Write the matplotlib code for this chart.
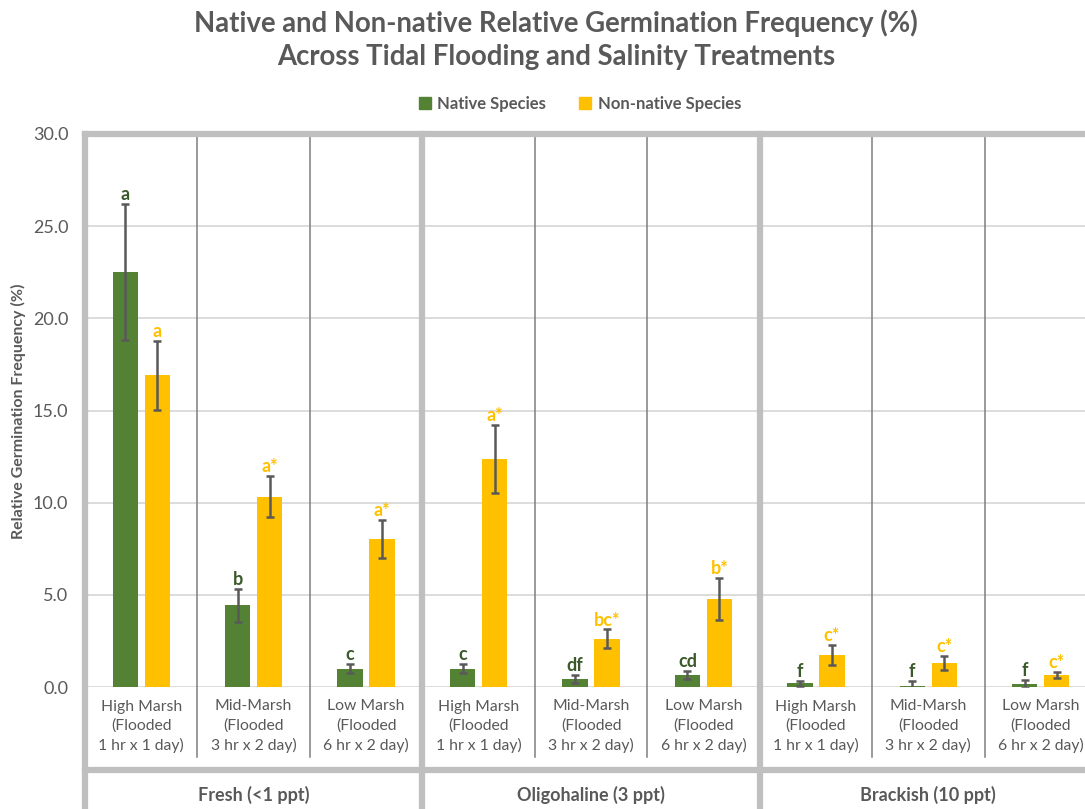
import matplotlib
matplotlib.use('agg')
import matplotlib.pyplot as plt
from matplotlib.patches import Patch
import numpy as np

plt.rcParams['font.family'] = ['Lato', 'DejaVu Sans']

# treatments: three flooding regimes repeated within each salinity level
categories = ['High Marsh\n(Flooded\n1 hr x 1 day)',
              'Mid-Marsh\n(Flooded\n3 hr x 2 day)',
              'Low Marsh\n(Flooded\n6 hr x 2 day)'] * 3
salinity = ['Fresh (<1 ppt)', 'Oligohaline (3 ppt)', 'Brackish (10 ppt)']

native = [22.5, 4.43, 1.0, 1.0, 0.45, 0.65, 0.2, 0.05, 0.17]
native_err = [3.7, 0.9, 0.25, 0.25, 0.22, 0.22, 0.13, 0.3, 0.2]
native_letters = ['a', 'b', 'c', 'c', 'df', 'cd', 'f', 'f', 'f']

nonnative = [16.9, 10.33, 8.03, 12.35, 2.62, 4.78, 1.75, 1.28, 0.65]
nonnative_err = [1.85, 1.1, 1.05, 1.85, 0.5, 1.15, 0.53, 0.38, 0.16]
nonnative_letters = ['a', 'a*', 'a*', 'a*', 'bc*', 'b*', 'c*', 'c*', 'c*']

GREEN = '#548235'
GOLD = '#FFC000'
TXT = '#595959'
BORDER = '#BFBFBF'

W, H = 1085, 809
fig = plt.figure(figsize=(W / 100, H / 100), dpi=100)
ax = fig.add_axes([85 / W, 1 - 687 / H, (1097 - 85) / W, (687 - 134) / H])

x = np.arange(len(categories))
bw = 0.225
off = 0.142
ekw = dict(ecolor=TXT, elinewidth=1.8, capsize=2.7, capthick=1.8)
ax.bar(x - off, native, bw, color=GREEN, yerr=native_err, error_kw=ekw, zorder=2)
ax.bar(x + off, nonnative, bw, color=GOLD, yerr=nonnative_err, error_kw=ekw, zorder=2)

# significance letters above the error bars
for i in range(len(x)):
    ax.text(x[i] - off, native[i] + native_err[i] + 0.05, native_letters[i],
            ha='center', va='bottom', fontsize=13, fontweight='bold', color='#3B5A2A')
    ax.text(x[i] + off, nonnative[i] + nonnative_err[i] + 0.05, nonnative_letters[i],
            ha='center', va='bottom', fontsize=13, fontweight='bold', color=GOLD)

ax.set_xlim(-0.5, 8.5)
ax.set_ylim(0, 30)
ax.set_yticks(np.arange(0, 31, 5))
ax.set_yticklabels(['{:.1f}'.format(v) for v in np.arange(0, 31, 5)])
ax.set_xticks(x)
ax.set_xticklabels(categories, linespacing=1.45)
ax.tick_params(axis='both', length=0, labelcolor=TXT)
ax.tick_params(axis='x', pad=9, labelsize=11.3)
ax.tick_params(axis='y', pad=12, labelsize=13)
ax.set_axisbelow(True)
ax.yaxis.grid(True, color='#D9D9D9', lw=1.3)
for s in ax.spines.values():
    s.set_visible(False)

# frame and separators drawn in data-x / axes-y coordinates
trans = ax.get_xaxis_transform()
ybot = (687 - 815) / 553
yband = (687 - 770) / 553
ythin = (687 - 757) / 553
ax.plot([-0.5, 8.5], [1, 1], transform=trans, color=BORDER, lw=4.5, clip_on=False, zorder=3)
ax.plot([-0.5, 8.5], [yband, yband], transform=trans, color=BORDER, lw=4.5, clip_on=False)
for xv in [-0.5, 2.5, 5.5, 8.5]:
    ax.plot([xv, xv], [1, ybot], transform=trans, color=BORDER, lw=4.5, clip_on=False, zorder=3)
for xv in [0.5, 1.5, 3.5, 4.5, 6.5, 7.5]:
    ax.plot([xv, xv], [1, ythin], transform=trans, color='#7F7F7F', lw=1.1, clip_on=False)

for j, name in enumerate(salinity):
    ax.text(3 * j + 1, (687 - 795) / 553, name, transform=trans, ha='center', va='center',
            fontsize=13, fontweight='bold', color=TXT)

fig.text(18 / W, 1 - 411 / H, 'Relative Germination Frequency (%)', rotation=90,
         ha='center', va='center', fontsize=11.5, fontweight='bold', color=TXT)

fig.text(556 / W, 1 - 40 / H,
         'Native and Non-native Relative Germination Frequency (%)\n'
         'Across Tidal Flooding and Salinity Treatments',
         ha='center', va='center', fontsize=19.8, fontweight='bold', color=TXT, linespacing=1.33)

handles = [Patch(color=GREEN, label='Native Species'), Patch(color=GOLD, label='Non-native Species')]
fig.legend(handles=handles, loc='center', bbox_to_anchor=(580 / W, 1 - 104 / H), ncol=2,
           frameon=False, handlelength=0.7, handleheight=0.7, handletextpad=0.4,
           columnspacing=2.0, prop=dict(weight='bold', size=12), labelcolor=TXT)

fig.savefig('out.png', dpi=100, facecolor='white')
